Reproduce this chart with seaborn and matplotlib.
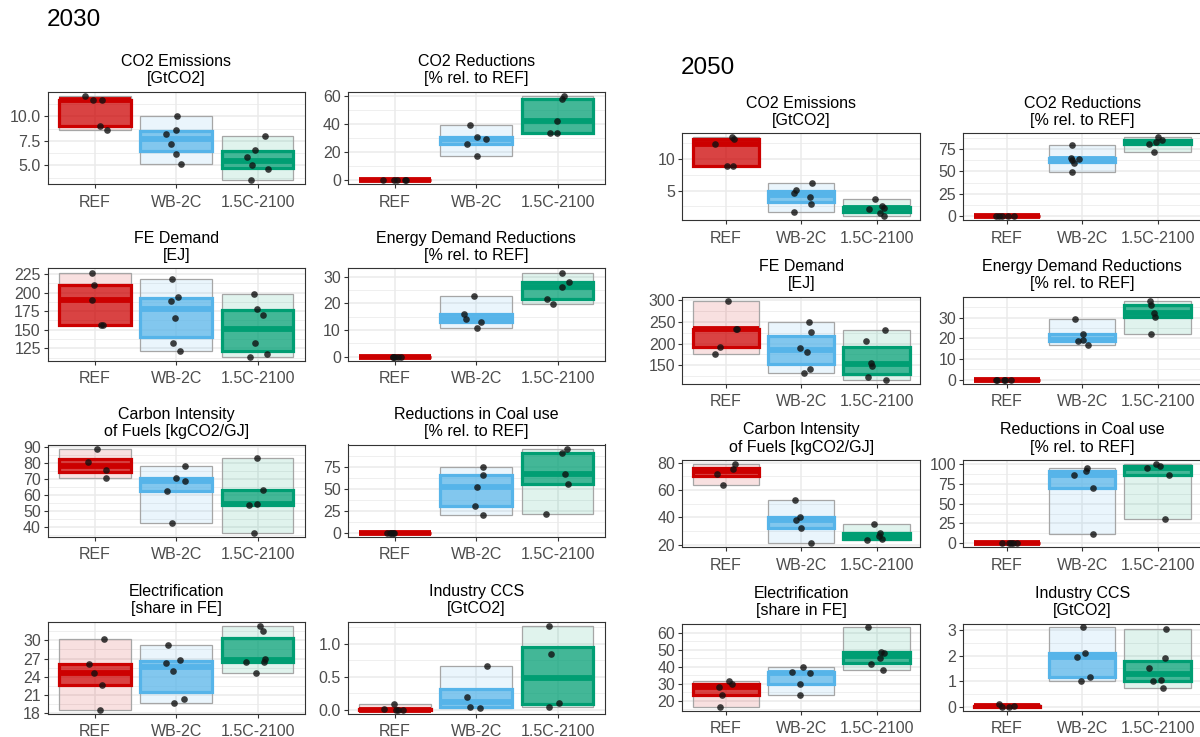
import numpy as np
import pandas as pd
import matplotlib
matplotlib.use("Agg")
import matplotlib.pyplot as plt
from matplotlib.colors import to_rgba
from matplotlib.ticker import MultipleLocator
import seaborn as sns

sns.set_style("white")
plt.rcParams['font.family'] = ['Liberation Sans', 'DejaVu Sans']

SCENARIOS = ["REF", "WB-2C", "1.5C-2100"]
COLORS = ["#CC0000", "#56B4E9", "#009E73"]

TITLES = [
    "CO2 Emissions\n[GtCO2]", "CO2 Reductions\n[% rel. to REF]",
    "FE Demand\n[EJ]", "Energy Demand Reductions\n[% rel. to REF]",
    "Carbon Intensity\nof Fuels [kgCO2/GJ]", "Reductions in Coal use\n[% rel. to REF]",
    "Electrification\n[share in FE]", "Industry CCS\n[GtCO2]",
]

# --- 2030: model values per scenario (REF, WB-2C, 1.5C-2100) ---
co2_em_2030 = [[12.1, 11.7, 11.65, 9.0, 8.65],
               [10.0, 8.6, 8.2, 7.2, 6.2, 5.15],
               [8.0, 6.6, 5.9, 5.05, 4.6, 3.5]]
co2_red_2030 = [[0, 0, 0, 0, 0],
                [39.5, 30.8, 29.4, 25.9, 17.0],
                [60.0, 58.0, 42.3, 33.5, 33.2]]
fe_2030 = [[227, 211, 190.5, 157, 157],
           [219, 194, 189, 166, 132.5, 121.5],
           [198, 178, 170.4, 132, 117, 113.5]]
edr_2030 = [[0, 0, 0, 0, 0],
            [22.6, 16.2, 14.2, 12.9, 10.9],
            [31.5, 28.2, 26.2, 21.8, 19.7]]
ci_2030 = [[89.0, 80.6, 75.7, 70.5],
           [77.9, 70.5, 68.9, 62.3, 42.5],
           [83.4, 63.2, 54.3, 53.9, 36.5]]
coal_2030 = [[0, 0, 0, 0, 0],
             [75.1, 65.8, 52.4, 30.5, 19.7],
             [95.5, 91.1, 66.9, 55.0, 20.8]]
elec_2030 = [[30.2, 26.1, 24.6, 22.7, 18.6],
             [29.25, 26.7, 26.35, 24.9, 20.4, 19.7],
             [32.4, 31.5, 26.9, 26.5, 26.4, 24.6]]
ccs_2030 = [[0.09, 0.01, 0.0, 0.0, 0.0],
            [0.66, 0.19, 0.04, 0.02],
            [1.27, 0.84, 0.11, 0.045]]

# --- 2050 ---
co2_em_2050 = [[13.4, 13.2, 12.3, 8.8, 8.8],
               [6.15, 5.1, 4.6, 3.96, 2.92, 1.6],
               [3.65, 2.5, 2.3, 2.08, 1.46, 0.94]]
co2_red_2050 = [[0, 0, 0, 0, 0],
                [79.0, 65.1, 64.0, 62.9, 59.6, 48.7],
                [87.8, 84.5, 82.0, 80.5, 71.0]]
fe_2050 = [[299, 234.4, 232.8, 191.6, 176.3],
           [249, 227.5, 190.8, 181, 142.7, 132.8],
           [232, 205.3, 155.7, 149, 123, 116.8]]
edr_2050 = [[0, 0, 0, 0, 0],
            [29.5, 22.0, 19.2, 18.8, 16.6],
            [38.3, 36.2, 32.5, 30.3, 22.2]]
ci_2050 = [[79.0, 75.5, 72.0, 64.0],
           [52.5, 40.5, 38.0, 32.0, 21.0],
           [35.0, 28.5, 26.5, 24.0, 23.5]]
coal_2050 = [[0, 0, 0, 0, 0],
             [96, 92, 86, 70, 12],
             [100.5, 98, 96, 86, 30.5]]
elec_2050 = [[31.5, 30.0, 28.0, 23.0, 16.5],
             [40.0, 37.0, 36.0, 30.0, 23.5],
             [63.0, 48.5, 48.0, 45.0, 41.5, 38.0]]
ccs_2050 = [[0.1, 0.02, 0.0, 0.0],
            [3.1, 2.1, 1.95, 1.15, 1.0],
            [3.05, 1.9, 1.5, 1.05, 1.0, 0.72]]

ticks_2030 = [[5.0, 7.5, 10.0], [0, 20, 40, 60], [125, 150, 175, 200, 225], [0, 10, 20, 30],
              [40, 50, 60, 70, 80, 90], [0, 25, 50, 75], [18, 21, 24, 27, 30], [0.0, 0.5, 1.0]]
ticks_2050 = [[5, 10], [0, 25, 50, 75], [150, 200, 250, 300], [0, 10, 20, 30],
              [20, 40, 60, 80], [0, 25, 50, 75, 100], [20, 30, 40, 50, 60], [0, 1, 2, 3]]

data_2030 = [co2_em_2030, co2_red_2030, fe_2030, edr_2030, ci_2030, coal_2030, elec_2030, ccs_2030]
data_2050 = [co2_em_2050, co2_red_2050, fe_2050, edr_2050, ci_2050, coal_2050, elec_2050, ccs_2050]

np.random.seed(7)
W, H = 1200, 737
fig = plt.figure(figsize=(W / 100, H / 100), dpi=100)


def draw_panel(ax, values, ticks, title):
    df = pd.DataFrame({
        "scenario": [s for s, v in zip(SCENARIOS, values) for _ in v],
        "value": [x for v in values for x in v],
    })
    for scen, c in zip(SCENARIOS, COLORS):
        n0 = len(ax.patches)
        sns.boxplot(data=df[df.scenario == scen], x="scenario", y="value", order=SCENARIOS,
                    color=c, linecolor=c, saturation=1, width=0.88, linewidth=2.3,
                    whis=0, showcaps=False, showfliers=False,
                    whiskerprops=dict(linewidth=0), medianprops=dict(linewidth=4.2, color=c),
                    ax=ax)
        for p in ax.patches[n0:]:
            p.set_facecolor(to_rgba(c, 0.7))
            p.set_edgecolor(c)
    sns.stripplot(data=df, x="scenario", y="value", order=SCENARIOS, color="#111111",
                  size=4.8, alpha=0.8, jitter=0.15, linewidth=0, zorder=3, ax=ax)
    mins = [min(v) for v in values]
    maxs = [max(v) for v in values]
    ax.bar(range(3), np.subtract(maxs, mins), bottom=mins, width=0.88,
           color=[to_rgba(c, 0.12) for c in COLORS], edgecolor="#a6a6a6",
           linewidth=0.9, zorder=0.8)

    lo, hi = min(mins), max(maxs)
    pad = 0.05 * (hi - lo)
    ax.set_ylim(lo - pad, hi + pad)
    ax.set_xlim(-0.58, 2.58)
    ax.set_yticks(ticks)
    dec = 1 if any(float(t) != int(t) for t in ticks) else 0
    ax.set_yticklabels([f"{t:.{dec}f}" for t in ticks])
    ax.yaxis.set_minor_locator(MultipleLocator((ticks[1] - ticks[0]) / 2))
    ax.set_axisbelow(True)
    ax.grid(True, which="major", color="#EBEBEB", linewidth=1.1)
    ax.grid(True, which="minor", axis="y", color="#EBEBEB", linewidth=0.55)
    ax.tick_params(which="major", length=3, width=0.8, color="#333333",
                   labelcolor="#4D4D4D", labelsize=11.5, left=True, bottom=True)
    ax.tick_params(axis="y", pad=2)
    ax.tick_params(axis="x", pad=4.5)
    ax.tick_params(which="minor", length=0)
    for sp in ax.spines.values():
        sp.set_color("#333333")
        sp.set_linewidth(0.8)
    ax.set_xlabel("")
    ax.set_ylabel("")
    ax.set_title(title, fontsize=11.5, pad=6, color="black", linespacing=1.2)


def add_group(data, ticks, lefts, tops, width, height):
    for i, (vals, tk, title) in enumerate(zip(data, ticks, TITLES)):
        r, c = divmod(i, 2)
        x0 = lefts[c]
        y0 = tops[r] + height
        ax = fig.add_axes([x0 / W, 1 - y0 / H, width / W, height / H])
        draw_panel(ax, vals, tk, title)


add_group(data_2030, ticks_2030, [47.7, 347.7], [91.7, 268.5, 444.5, 621.5], 257, 92.5)
add_group(data_2050, ticks_2050, [682.3, 963.3], [133.3, 296.7, 460.1, 623.5], 238, 87)

fig.text(47 / W, 1 - 20 / H, "2030", fontsize=17.5, va="center", ha="left", color="black")
fig.text(681 / W, 1 - 68 / H, "2050", fontsize=17.5, va="center", ha="left", color="black")

fig.savefig("out.png", dpi=100)
